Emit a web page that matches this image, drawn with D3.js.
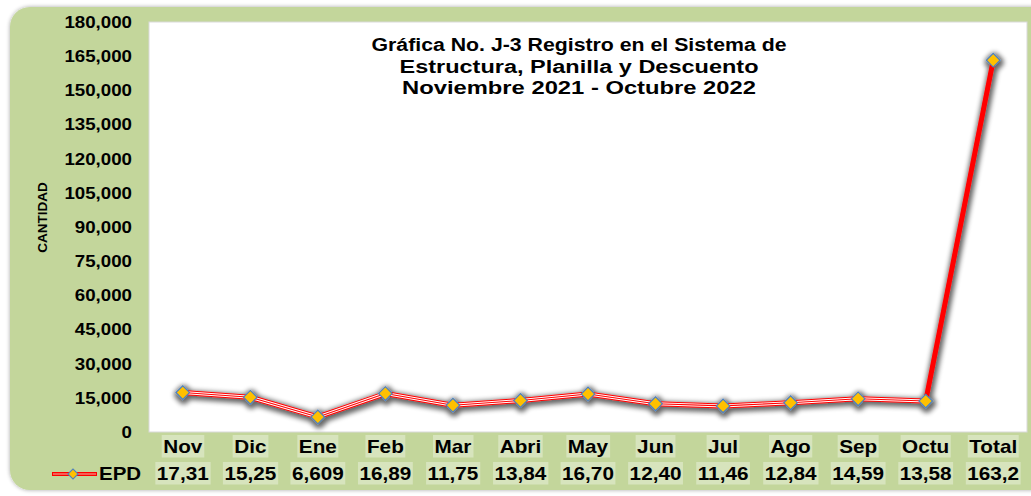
<!DOCTYPE html>
<html lang="es">
<head>
<meta charset="utf-8">
<script src="https://cdn.jsdelivr.net/npm/d3@7"></script>
<style>
  html, body { margin: 0; padding: 0; background: #ffffff; }
  svg { display: block; font-family: "Liberation Sans", Arial, sans-serif; }
</style>
</head>
<body>
<svg id="chart" width="1031" height="496"></svg>
<script>
// Registros mensuales EPD, noviembre 2021 - octubre 2022, más el total
const categories = ["Nov", "Dic", "Ene", "Feb", "Mar", "Abri", "May", "Jun", "Jul", "Ago", "Sep", "Octu", "Total"];
const epdValues = [17310, 15250, 6609, 16890, 11750, 13840, 16700, 12400, 11460, 12840, 14590, 13580, 163219];
const yTicks = [0, 15000, 30000, 45000, 60000, 75000, 90000, 105000, 120000, 135000, 150000, 165000, 180000];
const titleLines = [
  "Gráfica No. J-3 Registro en el Sistema de",
  "Estructura, Planilla y Descuento",
  "Noviembre 2021 - Octubre 2022"
];
const seriesName = "EPD";
const axisTitle = "CANTIDAD";

const W = 1031, H = 496;
const plot = { left: 149, right: 1027, top: 22, bottom: 432 };
const GREEN = "#c3d69b", CELL = "#d7e4bd", RED = "#ff0000";

const svg = d3.select("#chart");
const defs = svg.append("defs");

// soft shadow around the panel
const panelShadow = defs.append("filter").attr("id", "panelShadow")
  .attr("x", "-5%").attr("y", "-5%").attr("width", "110%").attr("height", "110%");
panelShadow.append("feGaussianBlur").attr("in", "SourceAlpha").attr("stdDeviation", 2).attr("result", "b");
panelShadow.append("feComponentTransfer").attr("in", "b").attr("result", "s")
  .append("feFuncA").attr("type", "linear").attr("slope", 0.35);
const pm = panelShadow.append("feMerge");
pm.append("feMergeNode").attr("in", "s");
pm.append("feMergeNode").attr("in", "SourceGraphic");

// gray glow under the series line and markers
const lineShadow = defs.append("filter").attr("id", "lineShadow")
  .attr("x", "-20%").attr("y", "-20%").attr("width", "140%").attr("height", "140%");
lineShadow.append("feMorphology").attr("in", "SourceAlpha").attr("operator", "dilate").attr("radius", 1.5).attr("result", "d");
lineShadow.append("feGaussianBlur").attr("in", "d").attr("stdDeviation", 2.8).attr("result", "b");
lineShadow.append("feOffset").attr("in", "b").attr("dx", 0.5).attr("dy", 1.5).attr("result", "o");
lineShadow.append("feComponentTransfer").attr("in", "o").attr("result", "s")
  .append("feFuncA").attr("type", "linear").attr("slope", 0.6);
const lm = lineShadow.append("feMerge");
lm.append("feMergeNode").attr("in", "s");
lm.append("feMergeNode").attr("in", "SourceGraphic");

// widen glyphs slightly by stretching each text to k times its natural length
function stretch(sel, k) {
  sel.each(function () {
    const n = this.getComputedTextLength();
    d3.select(this).attr("textLength", n * k).attr("lengthAdjust", "spacingAndGlyphs");
  });
}

// panel background
svg.append("rect")
  .attr("x", 10).attr("y", 7).attr("width", W + 40).attr("height", 483)
  .attr("rx", 20).attr("ry", 20)
  .attr("fill", GREEN).attr("filter", "url(#panelShadow)");

// plot area
svg.append("rect")
  .attr("x", plot.left).attr("y", plot.top)
  .attr("width", plot.right - plot.left).attr("height", plot.bottom - plot.top)
  .attr("fill", "#ffffff").attr("stroke", "#d9d9d9").attr("stroke-width", 1);

const x = d3.scaleBand().domain(categories).range([plot.left, plot.right]).padding(0);
const y = d3.scaleLinear().domain([0, 180000]).range([plot.bottom, plot.top]);

// value axis
const yAxis = svg.append("g")
  .attr("transform", `translate(${plot.left},0)`)
  .call(d3.axisLeft(y).tickValues(yTicks).tickSize(0).tickPadding(17)
    .tickFormat(d => d === 0 ? "0" : d3.format(",")(d)));
yAxis.select(".domain").remove();
yAxis.selectAll("text")
  .attr("font-family", "Liberation Sans, Arial, sans-serif")
  .attr("font-size", 17).attr("font-weight", "bold").attr("fill", "#000");
stretch(yAxis.selectAll("text"), 1.1);

// axis title
const at = svg.append("text")
  .attr("transform", "translate(46.5,217.5) rotate(-90)")
  .attr("text-anchor", "middle")
  .attr("font-size", 12.5).attr("font-weight", "bold").attr("fill", "#000")
  .text(axisTitle);
stretch(at, 1.08);

// chart title, three centred lines
const titleWidths = [415, 359, 354];
const title = svg.append("g").attr("font-size", 18).attr("font-weight", "bold").attr("fill", "#000");
title.selectAll("text").data(titleLines).join("text")
  .attr("x", 579).attr("y", (d, i) => 51 + i * 21.5)
  .attr("text-anchor", "middle")
  .attr("textLength", (d, i) => titleWidths[i])
  .attr("lengthAdjust", "spacingAndGlyphs")
  .text(d => d);

// series line with markers
const pts = categories.map((c, i) => ({ c, v: epdValues[i], x: x(c) + x.bandwidth() / 2, y: y(epdValues[i]) }));
const monthly = pts.slice(0, pts.length - 1);
const tail = pts.slice(pts.length - 2);
const line = d3.line().x(d => d.x).y(d => d.y);

const series = svg.append("g").attr("filter", "url(#lineShadow)");
// red line with two fine white stripes
series.append("path").attr("d", line(monthly)).attr("fill", "none")
  .attr("stroke", RED).attr("stroke-width", 5).attr("stroke-linejoin", "round");
series.append("path").attr("d", line(monthly)).attr("fill", "none")
  .attr("stroke", "#ffffff").attr("stroke-width", 3).attr("stroke-linejoin", "round");
series.append("path").attr("d", line(monthly)).attr("fill", "none")
  .attr("stroke", RED).attr("stroke-width", 1.1).attr("stroke-linejoin", "round");
// solid segment up to the total
series.append("path").attr("d", line(tail)).attr("fill", "none")
  .attr("stroke", RED).attr("stroke-width", 5);

series.selectAll("path.marker").data(pts).join("path")
  .attr("class", "marker")
  .attr("d", d3.symbol().type(d3.symbolSquare).size(92))
  .attr("transform", d => `translate(${d.x},${d.y}) rotate(45)`)
  .attr("fill", "#ffc000").attr("stroke", "#4f81bd").attr("stroke-width", 1.2);

// data table: category row and value row
function cellRow(labels, cy, size) {
  const g = svg.append("g");
  const cells = g.selectAll("g").data(labels).join("g");
  const t = cells.append("text")
    .attr("x", (d, i) => x(categories[i]) + x.bandwidth() / 2)
    .attr("y", cy).attr("dy", "0.36em")
    .attr("text-anchor", "middle")
    .attr("font-size", size).attr("font-weight", "bold").attr("fill", "#000")
    .text(d => d);
  stretch(t, 1.09);
  cells.each(function () {
    const txt = d3.select(this).select("text").node();
    const bb = txt.getBBox();
    d3.select(this).insert("rect", "text")
      .attr("x", bb.x - 1.5).attr("y", cy - 11).attr("width", bb.width + 3).attr("height", 22.5)
      .attr("fill", CELL);
  });
}
cellRow(categories, 446, 19);
cellRow(epdValues.map(v => d3.format(",")(v).slice(0, 5)), 473, 19);

// legend key
const lg = svg.append("g");
lg.append("line").attr("x1", 52).attr("x2", 97).attr("y1", 474).attr("y2", 474)
  .attr("stroke", RED).attr("stroke-width", 4);
lg.append("line").attr("x1", 53).attr("x2", 96).attr("y1", 474).attr("y2", 474)
  .attr("stroke", "#f08070").attr("stroke-width", 1.5);
lg.append("path")
  .attr("d", d3.symbol().type(d3.symbolSquare).size(50))
  .attr("transform", "translate(73,474) rotate(45)")
  .attr("fill", "#ffc000").attr("stroke", "#4f81bd").attr("stroke-width", 1.2);
const lt = lg.append("text").attr("x", 99).attr("y", 473).attr("dy", "0.36em")
  .attr("font-size", 19).attr("font-weight", "bold").attr("fill", "#000")
  .text(seriesName);
stretch(lt, 1.08);
</script>
</body>
</html>
